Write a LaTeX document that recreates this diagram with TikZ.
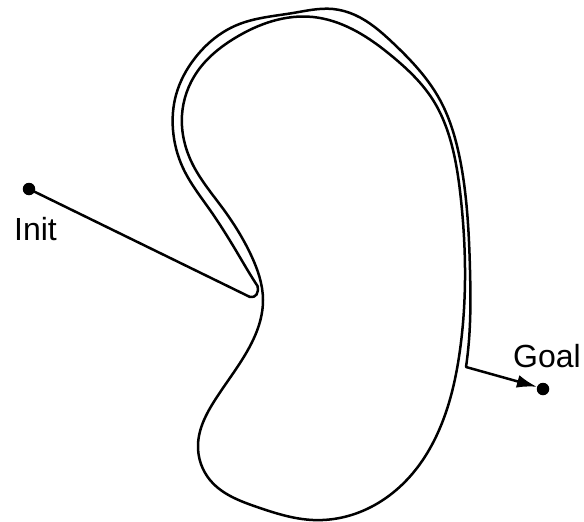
\documentclass[tikz,border=0pt]{standalone}
\usepackage{fontspec}
\setmainfont{Liberation Sans}
\usetikzlibrary{arrows.meta,hobby}
\tikzset{
  curve/.style={line width=2.5pt, line join=round, line cap=round},
  dot/.style={circle, fill=black, inner sep=0pt, minimum size=12.5pt},
  lbl/.style={inner sep=0pt, font=\fontsize{32}{38}\selectfont}
}
\begin{document}
\begin{tikzpicture}[x=1pt,y=-1pt]
\useasboundingbox (0,0) rectangle (584,522);
% obstacle
\draw[curve, use Hobby shortcut, closed=true]
 (263,300) .. (251,255) .. (224,210) .. (192,163) .. (182,115) .. (197,72)
 .. (235,38) .. (313,17) .. (352,29) .. (393,57) .. (433,100) .. (453,150)
 .. (461,200) .. (465,280) .. (460,350) .. (445,415) .. (413,473)
 .. (360,512) .. (313,520) .. (257,507) .. (210,480) .. (198,445)
 .. (215,400) .. (245,355);
% endpoints
\node[dot] (init) at (29,189) {};
\node[dot] (goal) at (543,389) {};
\node[lbl, anchor=base west] (initlbl) at (14,240) {Init};
\node[lbl, anchor=base west] (goallbl) at (513,367) {Goal};
\coordinate (hook) at (250,297);
\coordinate (tip) at (257.5,286);
\coordinate (corner) at (466,367);
% path
\draw[curve, -{Latex[length=20pt,width=13pt]}] (init) -- (hook)
  .. controls (256,298) and (259,293) .. (tip)
  to[curve through={(253,279) .. (238,254) .. (210,210) .. (183,168)
   .. (173,130) .. (176,95) .. (195,58) .. (237,25) .. (293,13) .. (333,9)
   .. (355,15) .. (393,43) .. (440,100) .. (458,150) .. (466,200)
   .. (470,270) .. (469,340)}] (corner)
  -- (goal);
\end{tikzpicture}
\end{document}
